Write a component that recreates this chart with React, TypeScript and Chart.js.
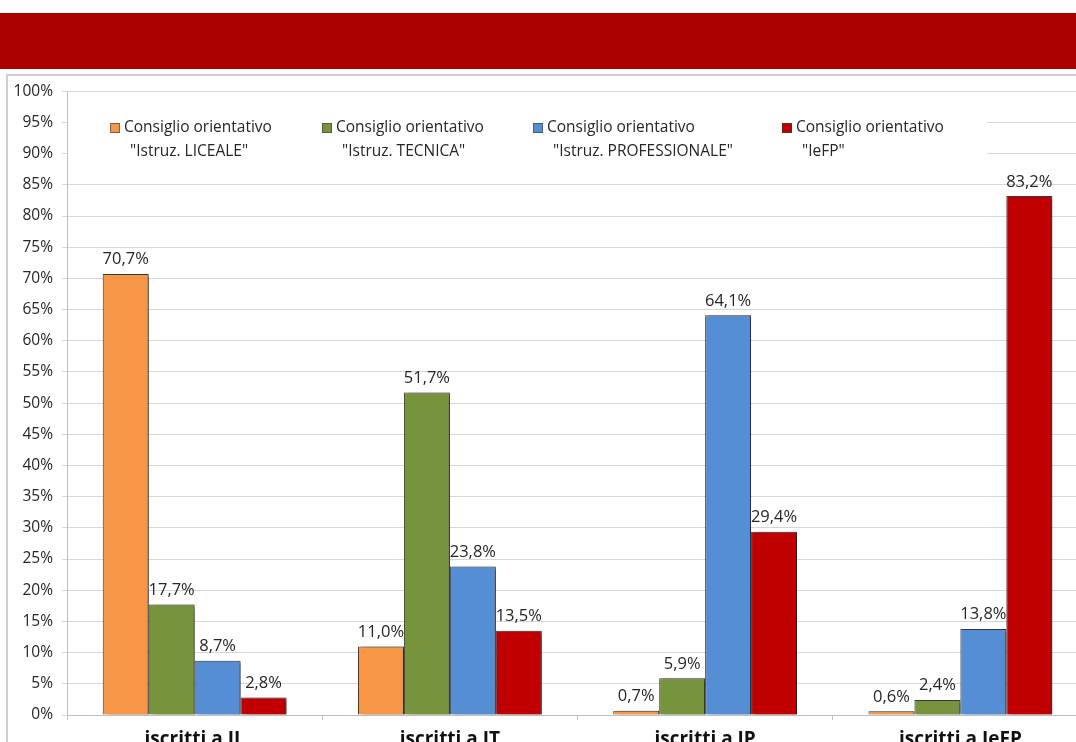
import React, { useEffect, useRef } from "react";
import { Chart, registerables } from "chart.js";

Chart.register(...registerables);

const categories = ["iscritti a IL", "iscritti a IT", "iscritti a IP", "iscritti a IeFP"];
const seriesNames = [
  ["Consiglio orientativo", "\"Istruz. LICEALE\""],
  ["Consiglio orientativo", "\"Istruz. TECNICA\""],
  ["Consiglio orientativo", "\"Istruz. PROFESSIONALE\""],
  ["Consiglio orientativo", "\"IeFP\""],
];
const liceale = [70.7, 11.0, 0.7, 0.6];
const tecnica = [17.7, 51.7, 5.9, 2.4];
const professionale = [8.7, 23.8, 64.1, 13.8];
const iefp = [2.8, 13.5, 29.4, 83.2];
const colors = ["#F79646", "#77933C", "#558ED5", "#C00000"];
const legendX = [110, 322, 533, 782];

const FONT = "'Open Sans', 'Noto Sans', sans-serif";
const CANVAS_TOP = 73;
const fmt = (v: number) => v.toFixed(1).replace(".", ",") + "%";

export default function App() {
  const ref = useRef<HTMLCanvasElement | null>(null);
  useEffect(() => {
    if (!ref.current) return;
    const shadowPlugin = {
      id: "shadow",
      beforeDatasetsDraw(chart: any) {
        const ctx = chart.ctx;
        const a = chart.chartArea;
        ctx.save();
        ctx.fillStyle = "#ffffff";
        ctx.fillRect(a.left + 1, 100 - CANVAS_TOP, 986 - a.left, 75);
        ctx.font = `15.5px ${FONT}`;
        ctx.textBaseline = "middle";
        seriesNames.forEach((lines, i) => {
          const x = legendX[i];
          const y1 = 128 - CANVAS_TOP;
          const y2 = 152 - CANVAS_TOP;
          ctx.fillStyle = colors[i];
          ctx.fillRect(x, y1 - 5, 10, 10);
          ctx.strokeStyle = "rgba(60,60,60,0.6)";
          ctx.lineWidth = 1;
          ctx.strokeRect(x + 0.5, y1 - 4.5, 9, 9);
          ctx.fillStyle = "#262626";
          ctx.textAlign = "left";
          ctx.fillText(lines[0], x + 14, y1);
          ctx.fillText(lines[1], x + 20, y2);
        });
        ctx.restore();
        ctx.save();
        ctx.shadowColor = "rgba(0,0,0,0.55)";
        ctx.shadowOffsetX = 3;
        ctx.shadowOffsetY = 1;
        ctx.shadowBlur = 4;
      },
      afterDatasetsDraw(chart: any) {
        const ctx = chart.ctx;
        ctx.restore();
        ctx.save();
        ctx.font = `16.5px ${FONT}`;
        ctx.fillStyle = "#262626";
        ctx.textAlign = "center";
        ctx.textBaseline = "bottom";
        chart.data.datasets.forEach((ds: any, di: number) => {
          const meta = chart.getDatasetMeta(di);
          meta.data.forEach((el: any, i: number) => {
            ctx.fillText(fmt(ds.data[i]), el.x, el.y - 6);
          });
        });
        ctx.restore();
      },
    };
    const chart = new Chart(ref.current, {
      type: "bar",
      data: {
        labels: categories,
        datasets: [liceale, tecnica, professionale, iefp].map((d, i) => ({
          label: seriesNames[i].join(" "),
          data: d,
          backgroundColor: colors[i],
          borderColor: "rgba(30,30,30,0.85)",
          borderWidth: 1,
          categoryPercentage: 0.72,
          barPercentage: 1,
        })),
      },
      options: {
        responsive: false,
        animation: false,
        events: [],
        layout: { padding: { left: 0, right: 22, top: 12, bottom: 0 } },
        plugins: { legend: { display: false }, tooltip: { enabled: false } },
        scales: {
          x: {
            grid: {
              offset: true,
              drawOnChartArea: false,
              tickLength: 5,
              color: "#bfbfbf",
            },
            border: { color: "#bfbfbf" },
            ticks: {
              padding: 8,
              color: "#111111",
              font: { family: FONT, size: 19, weight: "bold" },
            },
            afterFit(scale: any) {
              scale.height = 58;
            },
          },
          y: {
            min: 0,
            max: 100,
            grid: { color: "#d6d6d6", tickLength: 5 },
            border: { color: "#bfbfbf" },
            ticks: {
              stepSize: 5,
              padding: 9,
              color: "#262626",
              font: { family: FONT, size: 15.5 },
              callback: (v: any) => v + "%",
            },
            afterFit(scale: any) {
              scale.width = 67;
            },
          },
        },
      },
      plugins: [shadowPlugin],
    } as any);
    return () => chart.destroy();
  }, []);

  return (
    <div
      style={{
        position: "fixed",
        left: 0,
        top: 0,
        width: 1076,
        height: 742,
        overflow: "hidden",
        background: "#ffffff",
      }}
    >
      <div
        style={{
          position: "absolute",
          left: 0,
          top: 13,
          width: 1076,
          height: 56,
          background: "#AA0000",
        }}
      />
      <div
        style={{
          position: "absolute",
          left: 6,
          top: 74,
          width: 1200,
          height: 800,
          borderLeft: "2px solid #cfcfcf",
          borderTop: "2px solid #cfcfcf",
        }}
      />
      <canvas
        ref={ref}
        width={1110}
        height={700}
        style={{ position: "absolute", left: 0, top: CANVAS_TOP, width: 1110, height: 700 }}
      />
    </div>
  );
}
